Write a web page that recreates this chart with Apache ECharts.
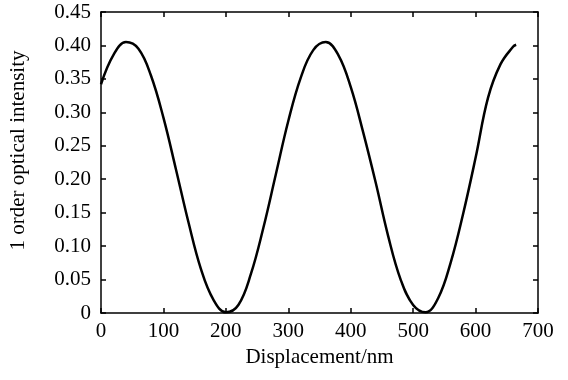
<!DOCTYPE html>
<html><head><meta charset="utf-8">
<script src="https://cdn.jsdelivr.net/npm/echarts@6/dist/echarts.min.js"></script>
<style>html,body{margin:0;padding:0;background:#fff}#c{width:568px;height:380px}</style>
</head><body><div id="c"></div>
<script>
const displacement = [0,20,40,60,80,100,120,140,160,180,200,220,240,260,280,300,320,340,360,380,400,420,440,460,480,500,520,540,560,580,600,620,640,660,665];
const intensity = [0.342,0.386,0.405,0.395,0.355,0.292,0.215,0.136,0.066,0.020,0.001,0.012,0.058,0.127,0.207,0.287,0.352,0.393,0.405,0.386,0.338,0.270,0.195,0.115,0.050,0.012,0.001,0.022,0.075,0.148,0.232,0.322,0.372,0.398,0.401];
const xTicks = [0,100,200,300,400,500,600,700];
const yTicks = [0,0.05,0.10,0.15,0.20,0.25,0.30,0.35,0.40,0.45];
const xName = 'Displacement/nm';
const yName = '1 order optical intensity';

const font = 'Liberation Serif';
const lineStyle = {color:'#000', width:1.5};
const chart = echarts.init(document.getElementById('c'));
const pts = displacement.map((d,i)=>[d,intensity[i]]);
chart.setOption({
  animation:false,
  grid:{left:100,right:30,top:12,bottom:67},
  xAxis:[{
    type:'value',min:xTicks[0],max:xTicks[xTicks.length-1],interval:100,
    position:'bottom',
    name:xName,nameLocation:'middle',nameGap:34,
    nameTextStyle:{fontFamily:font,fontSize:21,color:'#000'},
    axisLine:{onZero:false,lineStyle},axisTick:{inside:true,length:5,lineStyle},
    axisLabel:{fontFamily:font,fontSize:21,color:'#000',margin:8},
    splitLine:{show:false}
  },{
    type:'value',min:xTicks[0],max:xTicks[xTicks.length-1],interval:100,
    position:'top',
    axisLine:{onZero:false,lineStyle},axisTick:{inside:true,length:5,lineStyle},
    axisLabel:{show:false},splitLine:{show:false}
  }],
  yAxis:[{
    type:'value',min:0,max:0.45,interval:0.05,
    name:yName,nameLocation:'middle',nameGap:72,
    nameTextStyle:{fontFamily:font,fontSize:21,color:'#000',padding:[0,0,0,24]},
    axisLine:{onZero:false,lineStyle},axisTick:{inside:true,length:5,lineStyle},
    axisLabel:{fontFamily:font,fontSize:21,color:'#000',margin:10,
      formatter:v=>v===0?'0':v.toFixed(2)},
    splitLine:{show:false}
  },{
    type:'value',min:0,max:0.45,interval:0.05,position:'right',
    axisLine:{onZero:false,lineStyle},axisTick:{inside:true,length:5,lineStyle},
    axisLabel:{show:false},splitLine:{show:false}
  }],
  series:[{
    type:'line',data:pts,smooth:0.4,showSymbol:false,
    lineStyle:{color:'#000',width:2.5}
  }]
});
</script></body></html>
